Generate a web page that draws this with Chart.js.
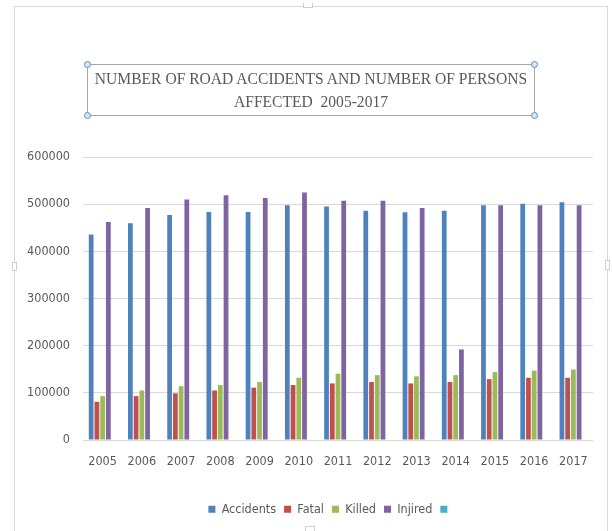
<!DOCTYPE html>
<html lang="en">
<head>
  <meta charset="UTF-8" />
  <title>Road Accidents 2005-2017</title>
  <script src="https://cdn.jsdelivr.net/npm/chart.js"></script>
  <style>
    body {
      margin: 0;
      background: #ffffff;
    }
    #wrap {
      position: relative;
      width: 612px;
      height: 531px;
      overflow: hidden;
    }
    #frame {
      position: absolute;
      left: 14px;
      top: 6px;
      width: 594px;
      height: 540px;
      border: 1px solid #d9d9d9;
      box-sizing: border-box;
    }
    .notch {
      position: absolute;
      background: #fff;
      border: 1px solid #cfcfcf;
      box-sizing: border-box;
    }
    canvas {
      position: absolute;
      left: 0;
      top: 0;
    }
    #titleBox {
      position: absolute;
      left: 87px;
      top: 64px;
      width: 448px;
      height: 52px;
      border: 1.5px solid #a6a6a6;
      box-sizing: border-box;
    }
    #titleText {
      position: absolute;
      left: -80px;
      right: -80px;
      top: 2px;
      text-align: center;
      font-family: 'Liberation Serif', 'Times New Roman', serif;
      font-size: 17.5px;
      line-height: 23px;
      color: #595959;
      white-space: pre;
      transform: scaleX(0.89);
    }
    .handle {
      position: absolute;
      width: 7px;
      height: 7px;
      border-radius: 50%;
      background: #d6e6f5;
      border: 1px solid #5b8ec2;
      box-sizing: border-box;
    }
  </style>
</head>
<body>
<div id="wrap">
  <div id="frame"></div>
  <div class="notch" style="left:303px;top:3px;width:10px;height:5px;border-top:none;"></div>
  <div class="notch" style="left:12px;top:262px;width:5px;height:9px;"></div>
  <div class="notch" style="left:605px;top:260px;width:5px;height:10px;"></div>
  <div class="notch" style="left:305px;top:526px;width:10px;height:6px;"></div>
  <canvas id="chart" width="612" height="531"></canvas>
  <div id="titleBox">
    <div id="titleText">NUMBER OF ROAD ACCIDENTS AND NUMBER OF PERSONS
AFFECTED  2005-2017</div>
  </div>
  <div class="handle" style="left:84px;top:61px;"></div>
  <div class="handle" style="left:531px;top:61px;"></div>
  <div class="handle" style="left:84px;top:112px;"></div>
  <div class="handle" style="left:531px;top:112px;"></div>
</div>

<script>
  const years = ['2005', '2006', '2007', '2008', '2009', '2010', '2011', '2012', '2013', '2014', '2015', '2016', '2017'];
  const accidents = [435500, 459500, 477000, 483500, 483500, 497600, 495000, 486000, 483000, 486000, 497600, 501000, 504000];
  const fatal = [81000, 93000, 99000, 105000, 111000, 116500, 120000, 123000, 120000, 123000, 129000, 132000, 132000];
  const killed = [93000, 105000, 114000, 116500, 123000, 132000, 140500, 137500, 135000, 137500, 144000, 147000, 149500];
  const injired = [462000, 492000, 510000, 519000, 513000, 524500, 507000, 507000, 492000, 192000, 497600, 497600, 497600];
  const yTicks = [0, 100000, 200000, 300000, 400000, 500000, 600000];

  const labelFont = { family: "'DejaVu Sans Condensed', 'Liberation Sans', sans-serif", size: 12.5 };
  const grey = '#595959';

  function series(label, data, color) {
    return {
      label: label,
      data: data,
      backgroundColor: color,
      borderWidth: 0,
      categoryPercentage: 0.73,
      barPercentage: 0.83
    };
  }

  // legend in the reference sits a little left of the plot centre
  const legendNudge = {
    id: 'legendNudge',
    afterLayout(c) {
      c.legend.left -= 7;
      c.legend.right -= 7;
    }
  };

  const ctx = document.getElementById('chart').getContext('2d');
  const chart = new Chart(ctx, {
    type: 'bar',
    data: {
      labels: years,
      datasets: [
        series('Accidents', accidents, '#4F81BD'),
        series('Fatal', fatal, '#C0504D'),
        series('Killed', killed, '#9BBB59'),
        series('Injired', injired, '#8064A2'),
        series('', [], '#4BACC6')
      ]
    },
    plugins: [legendNudge],
    options: {
      responsive: false,
      animation: false,
      devicePixelRatio: 1,
      layout: {
        padding: { top: 157, left: 20, right: 19, bottom: 5.5 }
      },
      plugins: {
        title: { display: false },
        tooltip: { enabled: false },
        legend: {
          position: 'bottom',
          fullSize: false,
          labels: {
            boxWidth: 7,
            boxHeight: 7,
            padding: 8,
            color: grey,
            font: labelFont
          }
        }
      },
      scales: {
        x: {
          grid: { display: false },
          border: { display: false },
          ticks: {
            color: grey,
            font: labelFont,
            padding: 6,
            maxRotation: 0,
            autoSkip: false
          },
          afterFit: s => { s.height = 55; }
        },
        y: {
          min: 0,
          max: 600000,
          grid: { color: '#d9d9d9', lineWidth: 1, drawTicks: false },
          border: { display: false },
          afterBuildTicks: s => { s.ticks = yTicks.map(v => ({ value: v })); },
          ticks: {
            color: grey,
            font: labelFont,
            padding: 13,
            callback: v => String(v)
          },
          afterFit: s => { s.width = 63; }
        }
      }
    }
  });
</script>
</body>
</html>
